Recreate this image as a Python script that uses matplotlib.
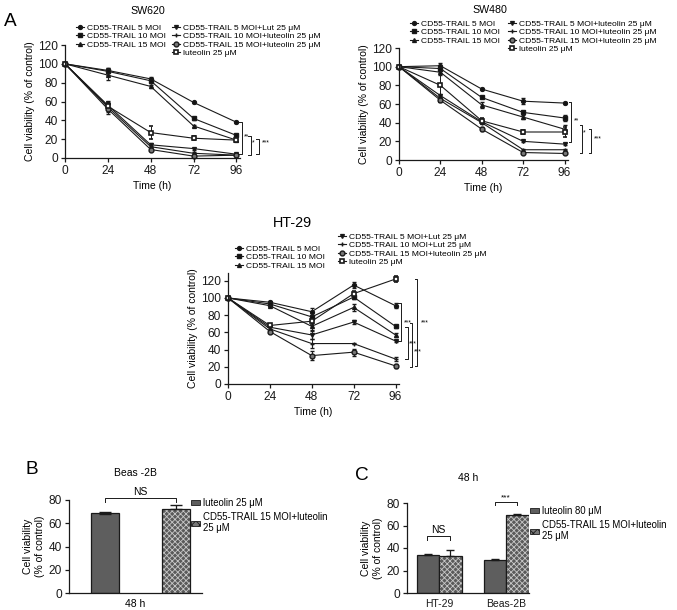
import matplotlib
matplotlib.use("Agg")
import matplotlib.pyplot as plt
from matplotlib.patches import Patch

plt.rcParams["font.family"] = ["Liberation Sans", "DejaVu Sans"]
plt.rcParams["hatch.linewidth"] = 0.6

W, H = 677, 610

times = [0, 24, 48, 72, 96]

labels_sw620 = [
    "CD55-TRAIL 5 MOI",
    "CD55-TRAIL 10 MOI",
    "CD55-TRAIL 15 MOI",
    "CD55-TRAIL 5 MOI+Lut 25 μM",
    "CD55-TRAIL 10 MOI+luteolin 25 μM",
    "CD55-TRAIL 15 MOI+luteolin 25 μM",
    "luteolin 25 μM",
]
labels_sw480 = [
    "CD55-TRAIL 5 MOI",
    "CD55-TRAIL 10 MOI",
    "CD55-TRAIL 15 MOI",
    "CD55-TRAIL 5 MOI+luteolin 25 μM",
    "CD55-TRAIL 10 MOI+luteolin 25 μM",
    "CD55-TRAIL 15 MOI+luteolin 25 μM",
    "luteolin 25 μM",
]
labels_ht29 = [
    "CD55-TRAIL 5 MOI",
    "CD55-TRAIL 10 MOI",
    "CD55-TRAIL 15 MOI",
    "CD55-TRAIL 5 MOI+Lut 25 μM",
    "CD55-TRAIL 10 MOI+Lut 25 μM",
    "CD55-TRAIL 15 MOI+luteolin 25 μM",
    "luteolin 25 μM",
]

sw620_mean = [
    [100, 93, 84, 59, 38],
    [100, 92, 82, 42, 24],
    [100, 88, 76, 34, 19],
    [100, 56, 14, 10, 4],
    [100, 54, 12, 5, 3],
    [100, 52, 9, 2, 3],
    [100, 55, 27, 21, 19],
]
sw620_err = [
    [0, 3, 2, 1, 1],
    [0, 4, 2, 2, 1],
    [0, 5, 2, 1, 1],
    [0, 5, 2, 1, 1],
    [0, 5, 1, 1, 1],
    [0, 5, 1, 1, 1],
    [0, 4, 7, 2, 2],
]

sw480_mean = [
    [100, 101, 76, 63, 61],
    [100, 98, 67, 51, 45],
    [100, 94, 59, 46, 33],
    [100, 69, 41, 20, 17],
    [100, 66, 40, 11, 11],
    [100, 64, 33, 8, 7],
    [100, 80, 42, 30, 30],
]
sw480_err = [
    [0, 3, 1, 3, 1],
    [0, 3, 1, 2, 3],
    [0, 3, 3, 2, 4],
    [0, 2, 1, 1, 1],
    [0, 2, 1, 1, 1],
    [0, 2, 2, 1, 1],
    [0, 18, 3, 2, 5],
]

ht29_mean = [
    [100, 95, 84, 115, 91],
    [100, 93, 78, 101, 67],
    [100, 91, 67, 89, 57],
    [100, 66, 57, 72, 50],
    [100, 64, 47, 47, 29],
    [100, 61, 33, 37, 21],
    [100, 68, 73, 105, 122],
]
ht29_err = [
    [0, 2, 4, 3, 3],
    [0, 2, 4, 2, 2],
    [0, 2, 4, 4, 2],
    [0, 2, 5, 2, 1],
    [0, 2, 5, 1, 2],
    [0, 2, 5, 4, 2],
    [0, 2, 4, 3, 3],
]

# significance brackets: (x, y_top, y_bottom, label, label_x, label_y)
sw620_brackets = [(99, 38, 4, "**", 100, 22), (104, 23, 3, "*", 104.5, 16),
                  (108.5, 20, 4, "***", 110, 16)]
sw480_brackets = [(100, 62, 19, "**", 101.5, 42), (106.4, 37, 8, "*", 106.5, 29),
                  (111.6, 33, 8, "***", 113, 23)]
ht29_brackets = [(99, 94, 50, "***", 100.5, 71), (103, 66, 29, "***", 103.8, 47),
                 (105.7, 71, 20, "***", 106.6, 37), (108.6, 122, 21, "***", 110.5, 71)]

beas_groups = ["48 h"]
beas_lut = [69]
beas_lut_err = [0.8]
beas_combo = [72]
beas_combo_err = [4]
beas_labels = ["luteolin 25 μM", "CD55-TRAIL 15 MOI+luteolin\n25 μM"]

c_groups = ["HT-29", "Beas-2B"]
c_lut = [34, 29]
c_lut_err = [1, 1]
c_combo = [33, 69]
c_combo_err = [5, 1.2]
c_labels = ["luteolin 80 μM", "CD55-TRAIL 15 MOI+luteolin\n25 μM"]

markers = [
    dict(marker="o", ms=2.8, mfc="#111"),
    dict(marker="s", ms=2.8, mfc="#111"),
    dict(marker="^", ms=2.8, mfc="#111"),
    dict(marker="v", ms=2.8, mfc="#111"),
    dict(marker="+", ms=3.5, mfc="#111"),
    dict(marker="o", ms=3.5, mfc="#777"),
    dict(marker="s", ms=3.5, mfc="white", mew=1.2),
]

LINE = "#1a1a1a"
DARK = "#5e5e5e"
TICK_FS = 8.6
LABEL_FS = 7.5
LEG_FS = 6.1


def fig_axes(fig, left, top, right, bottom):
    return fig.add_axes([left / W, 1 - bottom / H, (right - left) / W, (bottom - top) / H])


def style_axes(ax):
    for s in ("top", "right"):
        ax.spines[s].set_visible(False)
    for s in ("left", "bottom"):
        ax.spines[s].set_linewidth(0.9)
        ax.spines[s].set_color(LINE)
    ax.tick_params(direction="out", length=3, width=0.9, labelsize=TICK_FS, pad=2, colors=LINE)


def line_panel(fig, box, title, title_fs, title_xy, means, errs, labels, brackets,
               ylim, leg1, leg2):
    ax = fig_axes(fig, *box)
    style_axes(ax)
    handles = []
    for m, e, st in zip(means, errs, markers):
        h = ax.errorbar(times, m, yerr=e, color=LINE, lw=0.8, capsize=1.5, elinewidth=0.7,
                        mec=LINE, clip_on=False, **st)
        handles.append(h[0])
    ax.set_xlim(0, 98)
    ax.set_ylim(*ylim)
    ax.set_xticks(times)
    ax.set_yticks(range(0, 121, 20))
    ax.set_xlabel("Time (h)", fontsize=LABEL_FS, labelpad=3)
    ax.set_ylabel("Cell viability (% of control)", fontsize=LABEL_FS, labelpad=2)
    fig.text(title_xy[0] / W, 1 - title_xy[1] / H, title, fontsize=title_fs,
             ha="center", va="center")
    for x, yt, yb, lab, lx, ly in brackets:
        ax.plot([x - 1.5, x, x, x - 1.5], [yt, yt, yb, yb], color=LINE, lw=0.7, clip_on=False)
        ax.text(lx, ly, lab, fontsize=4.8, va="center", ha="left", clip_on=False)
    kw = dict(frameon=False, fontsize=LEG_FS, handlelength=1.0, handletextpad=0.3,
              labelspacing=0.05, borderpad=0, borderaxespad=0, loc="upper left",
              bbox_transform=fig.transFigure)
    l1 = ax.legend(handles[:3], labels[:3], bbox_to_anchor=(leg1[0] / W, 1 - leg1[1] / H), **kw)
    ax.add_artist(l1)
    ax.legend(handles[3:], labels[3:], bbox_to_anchor=(leg2[0] / W, 1 - leg2[1] / H), **kw)
    return ax


def hatch_bar(ax, x, h, width):
    ax.bar(x, h, width, color="#5a5a5a", hatch="xxxxxx", edgecolor="#c8c8c8", lw=0)
    ax.bar(x, h, width, fill=False, edgecolor=LINE, lw=0.9)


fig = plt.figure(figsize=(W / 100, H / 100), dpi=100)

line_panel(fig, (65, 45, 240, 158), "SW620", 7.7, (148, 11), sw620_mean, sw620_err,
           labels_sw620, sw620_brackets, (0, 120), (76, 24), (172, 24))
line_panel(fig, (399, 48, 568, 160), "SW480", 7.7, (490, 10), sw480_mean, sw480_err,
           labels_sw480, sw480_brackets, (0, 120), (410, 20), (508, 20))
line_panel(fig, (228, 273, 399, 384), "HT-29", 10.4, (292, 223), ht29_mean, ht29_err,
           labels_ht29, ht29_brackets, (0, 129), (235, 245), (338, 233))

fig.text(10 / W, 1 - 22 / H, "A", fontsize=13.7, ha="center", va="center")
fig.text(32 / W, 1 - 470 / H, "B", fontsize=13.7, ha="center", va="center")
fig.text(362 / W, 1 - 475 / H, "C", fontsize=13.7, ha="center", va="center")

# Panel B
axb = fig_axes(fig, 69, 500, 202, 593)
style_axes(axb)
bw = 0.4
axb.bar(0, beas_lut[0], bw, color=DARK, edgecolor=LINE, lw=0.9)
axb.errorbar(0, beas_lut[0], yerr=beas_lut_err[0], color=LINE, capsize=4, lw=0.9)
hatch_bar(axb, 1, beas_combo[0], bw)
axb.errorbar(1, beas_combo[0], yerr=[[0], [beas_combo_err[0]]], color=LINE, capsize=4, lw=0.9)
axb.set_xlim(-0.51, 1.37)
axb.set_ylim(0, 80)
axb.set_yticks(range(0, 81, 20))
axb.set_xticks([])
axb.set_xlabel(beas_groups[0], fontsize=LABEL_FS, labelpad=4)
axb.set_ylabel("Cell viability\n(% of control)", fontsize=LABEL_FS, labelpad=3)
axb.set_title("Beas -2B", fontsize=LABEL_FS, pad=17)
axb.plot([0, 0, 1, 1], [78, 81.7, 81.7, 78], color=LINE, lw=0.7, clip_on=False)
axb.text(0.5, 82.5, "NS", fontsize=LABEL_FS, ha="center", va="bottom")

# Panel C
axc = fig_axes(fig, 407, 503, 529, 593)
style_axes(axc)
cw = 0.336
xs = range(len(c_groups))
for i in xs:
    axc.bar(i - cw / 2, c_lut[i], cw, color=DARK, edgecolor=LINE, lw=0.9)
    axc.errorbar(i - cw / 2, c_lut[i], yerr=[[0], [c_lut_err[i]]], color=LINE, capsize=3, lw=0.9)
    hatch_bar(axc, i + cw / 2, c_combo[i], cw)
    axc.errorbar(i + cw / 2, c_combo[i], yerr=[[0], [c_combo_err[i]]], color=LINE, capsize=3, lw=0.9)
axc.set_xlim(-0.478, 1.343)
axc.set_ylim(0, 80)
axc.set_yticks(range(0, 81, 20))
axc.set_xticks(list(xs))
axc.set_xticklabels(c_groups, fontsize=LABEL_FS)
axc.tick_params(axis="x", length=0, pad=4)
axc.set_ylabel("Cell viability\n(% of control)", fontsize=LABEL_FS, labelpad=3)
axc.set_title("48 h", fontsize=LABEL_FS, pad=16)
axc.plot([-0.18, -0.18, 0.16, 0.16], [47, 50.7, 50.7, 47], color=LINE, lw=0.7)
axc.text(-0.01, 51.5, "NS", fontsize=LABEL_FS, ha="center", va="bottom")
axc.plot([0.84, 0.84, 1.17, 1.17], [78, 81, 81, 78], color=LINE, lw=0.7, clip_on=False)
axc.text(1.0, 81, "***", fontsize=6, ha="center", va="bottom")

# bar legends
leg_kw = dict(frameon=False, fontsize=LEG_FS + 0.8, handlelength=0.9, handleheight=0.5,
              handletextpad=0.3, labelspacing=0.4, borderpad=0, borderaxespad=0,
              loc="upper left", bbox_transform=fig.transFigure)
for ax, labs, pos in ((axb, beas_labels, (191, 498)), (axc, c_labels, (530, 506))):
    hs = [Patch(facecolor=DARK, edgecolor=LINE, lw=0.6),
          Patch(facecolor="#777777", edgecolor=LINE, lw=0.6, hatch="xxxx")]
    ax.legend(hs, labs, bbox_to_anchor=(pos[0] / W, 1 - pos[1] / H), **leg_kw)

fig.savefig("out.png", dpi=100)
